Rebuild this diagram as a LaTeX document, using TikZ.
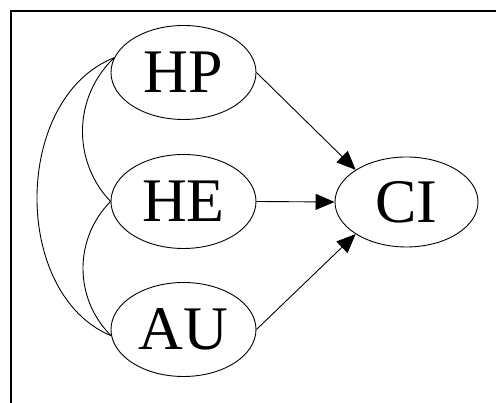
\documentclass[tikz,border=0pt]{standalone}
\usepackage{fontspec}
\setmainfont{Liberation Serif}
\usetikzlibrary{arrows.meta, shapes.geometric}
\tikzset{
  var/.style={draw=black, ellipse, line width=0.9pt, inner sep=0pt,
              minimum width=145pt, minimum height=94pt, font=\fontsize{62}{62}\selectfont},
  arr/.style={-{Triangle[length=19pt, width=16pt]}, line width=0.9pt},
  link/.style={line width=0.9pt},
  frame/.style={draw=black, line width=1.6pt},
}
\begin{document}
\begin{tikzpicture}[x=1pt, y=1pt]
  \useasboundingbox (0,0) rectangle (496,403);
  \fill[white] (0,0) rectangle (496,403);
  % ---------------- frame ----------------
  \draw[frame] (496,392) -- (11,392) -- (11,0);

  % ---------------- variables ----------------
  \node[var] (HP) at (183.5,330.5) {HP};
  \node[var] (HE) at (183.5,201.5) {HE};
  \node[var] (AU) at (183.5,73.5) {AU};
  \node[var, minimum width=143pt, minimum height=90pt] (CI) at (406.5,201) {CI};

  % ---------------- paths into CI ----------------
  \draw[arr] (HP.east) -- (CI.north west);
  \draw[arr] (HE.east) -- (CI.west);
  \draw[arr] (AU.east) -- (CI.south west);

  % ---------------- correlations ----------------
  \draw[link] (HP.168) to[bend right=45] (HE.west);
  \draw[link] (HE.west) to[bend right=45] (AU.185);
  \draw[link] (HP.168) to[bend right=68] (AU.185);
\end{tikzpicture}
\end{document}
